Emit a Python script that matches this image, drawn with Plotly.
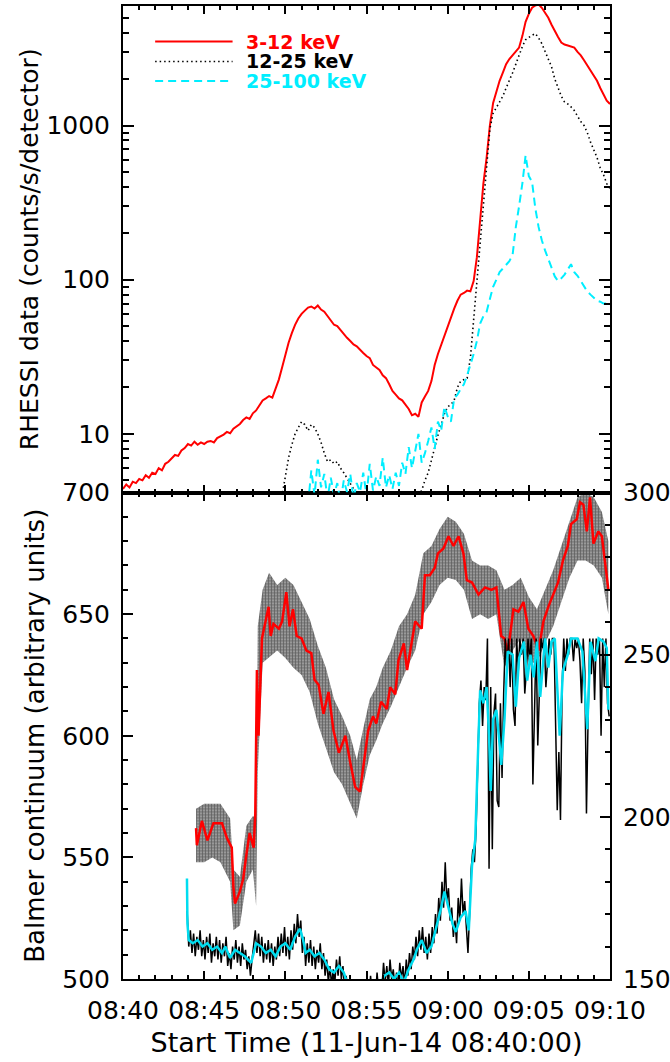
import numpy as np
import pandas as pd
import plotly.graph_objects as go

START = pd.Timestamp("2014-06-11 08:40:00")
FONT = "DejaVu Sans"

# ---------------- Top panel: RHESSI count rates (minutes after 08:40) ----------------
lo_t = np.round(np.arange(0, 30.01, 0.2), 2)
lo_v = [4.4, 4.7, 4.5, 4.9, 4.8, 5.1, 5.0, 5.4, 5.2, 5.6,
        5.5, 6.0, 5.8, 6.4, 6.6, 6.9, 7.3, 7.2, 7.8, 8.1,
        8.6, 8.4, 8.9, 8.5, 8.8, 8.6, 8.9, 9.0, 8.8, 9.4,
        9.6, 9.9, 10.3, 10.1, 10.8, 11.2, 11.6, 12.3, 12.8, 12.5,
        13.6, 14.2, 15.4, 16.5, 17.0, 17.6, 17.2, 19.5, 22.5, 27.0,
        33, 39, 45, 51, 56, 60, 63, 66, 67, 65,
        68, 64, 62, 58, 55, 51, 50, 47, 44, 42,
        40, 38, 37, 35, 33.5, 32, 31, 28, 27, 26,
        24, 23, 21, 19, 18, 17, 16.5, 15.5, 14.5, 13.2,
        13.5, 12.9, 16, 17.5, 19, 22, 28, 33, 38, 44,
        50, 57, 65, 73, 80, 82, 85, 84, 98, 140,
        240, 420, 620, 1000, 1400, 1650, 1950, 2200, 2500, 2700,
        2850, 3050, 3200, 3800, 4700, 5300, 5800, 6000, 6100, 5800,
        5400, 5000, 4500, 4150, 3750, 3450, 3350, 3300, 3250, 3200,
        3000, 2850, 2650, 2450, 2300, 2100, 1950, 1750, 1600, 1450,
        1380]

mid_t = np.round(np.arange(9.6, 30.01, 0.2), 2)
mid_v = [3.0, 4.0, 5.5, 7.0, 8.5, 10.0, 11.0, 12.0, 11.5, 10.5,
         11.5, 11.0, 10.0, 8.8, 7.5, 6.6, 6.8, 6.4, 6.6, 6.0,
         5.6, 5.2, 4.8, 4.4, 4.0, 3.8, 3.6, 3.5, 3.4, 3.4,
         3.3, 3.3, 3.2, 3.3, 3.2, 3.3, 3.4, 3.4, 3.5, 3.6,
         3.7, 3.8, 3.9, 4.0, 4.3, 5.0, 5.6, 6.8, 8.3, 9.8,
         11.5, 13.5, 15.0, 15.5, 16.5, 20.0, 22.0, 22.5, 23.0, 31.0,
         55, 95, 170, 330, 600, 950, 1200, 1300, 1400, 1550,
         1750, 1950, 2200, 2500, 2900, 3250, 3600, 3750, 3850, 3950,
         3700, 3400, 3000, 2700, 2400, 2000, 1750, 1550, 1420, 1380,
         1320, 1250, 1150, 1060, 1000, 900, 780, 700, 620, 530,
         480, 420, 390]

hi_t = np.round(np.arange(11.4, 30.01, 0.2), 2)
hi_v = [3.5, 5.8, 4.0, 6.8, 4.5, 5.5, 3.8, 5.2, 4.0, 4.8,
        3.6, 5.0, 4.2, 5.5, 3.8, 4.8, 4.2, 5.6, 4.0, 6.4,
        4.3, 5.3, 4.6, 7.0, 4.5, 5.4, 4.4, 5.6, 4.6, 6.5,
        5.5, 8.2, 6.0, 8.0, 10.0, 6.5, 7.5, 9.0, 11.0, 8.0,
        12.0, 10.5, 15.0, 13.0, 12.0, 17.0, 18.0, 19.5, 21.0, 24.0,
        28, 33, 40, 52, 58, 62, 75, 90, 100, 112,
        118, 126, 132, 145, 220, 300, 420, 640, 470, 430,
        290, 220, 180, 155, 135, 120, 105, 98, 102, 108,
        118, 126, 112, 106, 98, 90, 84, 80, 76, 73,
        72, 70, 70, 69]

band_names = ["3-12 keV", "12-25 keV", "25-100 keV"]

# ---------------- Bottom panel: Balmer continuum ----------------
# smoothed red curve (left axis)
bal_t = [4.5, 4.55, 4.86, 5.2, 5.57, 6.1, 6.4, 6.7, 6.8, 6.9, 7.2, 7.4, 7.6, 7.8, 8.05, 8.15,
         8.25, 8.35, 8.56, 8.76, 8.97, 9.1, 9.27, 9.6, 9.8, 10.06, 10.26, 10.47, 10.7, 11.0,
         11.3, 11.6, 11.8, 12.05, 12.35, 12.66, 12.97, 13.3, 13.7, 14.0, 14.3, 14.6, 14.9,
         15.1, 15.4, 15.6, 15.9, 16.25, 16.46, 16.77, 16.97, 17.3, 17.5, 17.8, 18.0, 18.4,
         18.6, 18.9, 19.2, 19.4, 19.74, 20.05, 20.36, 20.67, 20.97, 21.18, 21.5, 21.9, 22.3,
         22.7, 23.0, 23.3, 23.5, 23.7, 24.05, 24.36, 24.67, 24.97, 25.28, 25.6, 25.9, 26.2,
         26.5, 26.8, 27.1, 27.4, 27.6, 27.95, 28.15, 28.36, 28.57, 28.77, 28.98, 29.28,
         29.5, 29.7, 29.9]
bal_v = [562, 555, 565, 557, 564, 564, 558, 554, 538, 531, 536, 541, 551, 560, 554, 568,
         627, 600, 640, 647, 653, 641, 646, 644, 647, 659, 645, 652, 641, 640,
         635, 634, 623, 621, 609, 618, 602, 593, 600, 589, 579, 577, 592,
         602, 608, 605, 614, 611, 620, 617, 631, 638, 627, 638, 647, 644,
         666, 666, 669, 675, 677, 682, 678, 682, 675, 664, 663, 658, 661,
         660, 661, 641, 640, 634, 652, 651, 655, 644, 641, 635, 647, 653,
         658, 663, 672, 678, 687, 689, 696, 695, 684, 698, 679, 684,
         682, 672, 660]

# envelope of the raw (dotted) Balmer samples
pts_t = [4.5, 5.0, 5.5, 6.0, 6.6, 6.8, 7.2, 7.6, 8.0, 8.2, 8.3, 8.6, 9.0, 9.5, 10.0, 10.5,
         11.0, 11.5, 12.0, 12.5, 13.0, 13.5, 14.0, 14.4, 14.8, 15.2, 15.6, 16.0, 16.5, 17.0,
         17.5, 18.0, 18.5, 19.0, 19.5, 20.0, 20.5, 21.0, 21.5, 22.0, 22.5, 23.0, 23.5, 24.0,
         24.5, 25.0, 25.5, 26.0, 26.5, 27.0, 27.5, 28.0, 28.5, 29.0, 29.5, 29.9]
pts_hi = [570, 572, 572, 572, 566, 545, 542, 563, 567, 566, 645, 660, 667, 662, 665, 662,
          655, 648, 637, 628, 615, 608, 600, 590, 603, 615, 620, 628, 635, 645,
          650, 658, 675, 678, 685, 690, 688, 683, 672, 670, 670, 668, 660, 662,
          665, 657, 652, 660, 668, 678, 688, 698, 700, 698, 692, 680]
pts_lo = [548, 548, 550, 548, 540, 520, 522, 540, 545, 530, 585, 630, 632, 635, 632, 628,
          625, 618, 605, 595, 585, 580, 572, 566, 580, 592, 598, 605, 612, 620,
          628, 635, 650, 655, 662, 665, 664, 660, 648, 650, 648, 650, 628, 635,
          640, 630, 630, 638, 645, 655, 665, 672, 672, 670, 665, 650]

# raw light curve (right axis), sampled every 0.1 min from 3.95
raw_t = np.round(3.95 + 0.1 * np.arange(261), 2)
raw_v = [171, 160, 165, 158, 164, 157, 163, 159, 165, 157,
         162, 156, 163, 158, 164, 155, 161, 157, 163, 156,
         162, 155, 161, 157, 163, 154, 158, 153, 160, 156,
         162, 155, 160, 154, 161, 156, 159, 153, 157, 151,
         156, 160, 165, 158, 164, 157, 163, 155, 161, 156,
         162, 155, 161, 154, 160, 156, 163, 157, 164, 158,
         166, 157, 163, 156, 165, 159, 167, 161, 170, 163,
         168, 158, 163, 154, 161, 155, 162, 154, 160, 153,
         159, 155, 161, 153, 158, 151, 156, 149, 154, 148,
         153, 149, 156, 151, 157, 150, 154, 147, 151, 145,
         146, 150, 144, 148, 143, 147, 142, 149, 144, 147,
         142, 148, 143, 151, 145, 149, 144, 152, 146, 150,
         147, 155, 149, 154, 148, 156, 150, 153, 147, 152,
         146, 155, 150, 154, 148, 156, 151, 158, 153, 160,
         156, 163, 157, 165, 159, 166, 158, 163, 156, 164,
         158, 166, 161, 170, 164, 175, 168, 180, 172, 186,
         174, 178, 168, 172, 163, 168, 161, 175, 168, 181,
         170, 174, 165, 158, 170, 184, 190, 186, 196,
         215, 235, 242, 228, 240, 236, 255, 184, 240, 190,
         232, 238, 205, 203, 235, 212, 238, 255, 245, 255,
         240, 255, 233, 228, 255, 245, 255, 250, 255, 238,
         245, 255, 248, 255, 210, 232, 255, 222, 236, 255,
         252, 255, 240, 247, 255, 250, 255, 255, 232, 202,
         220, 199, 240, 255, 245, 255, 250, 255, 255, 248,
         255, 252, 255, 248, 235, 255, 245, 201, 230, 255,
         244, 255, 236, 255, 250, 255, 225, 255, 240, 255,
         235, 231]

# smoothed light curve (right axis)
sm_t = [3.94, 3.97, 4.05, 4.3, 4.6, 4.9, 5.2, 5.5, 5.8, 6.1, 6.3, 6.6, 6.9, 7.2, 7.5, 7.9,
        8.2, 8.5, 8.8, 9.1, 9.4, 9.7, 10.0, 10.3, 10.6, 10.9, 11.1, 11.25, 11.5, 11.8, 12.1,
        12.4, 12.7, 13.0, 13.3, 13.6, 13.8, 14.2, 14.6, 15.0, 15.4, 15.8, 16.1, 16.4, 16.7,
        17.0, 17.3, 17.6, 17.9, 18.1, 18.4, 18.7, 19.0, 19.2, 19.4, 19.6, 19.8, 20.1, 20.3,
        20.5, 20.8, 21.1, 21.3, 21.5, 21.7, 21.85, 22.0, 22.2, 22.4, 22.55, 22.65, 22.8,
        23.0, 23.15, 23.3, 23.5, 23.7, 24.0, 24.2, 24.4, 24.7, 24.9, 25.1, 25.3, 25.5, 25.7,
        26.0, 26.2, 26.4, 26.6, 26.75, 26.9, 27.1, 27.4, 27.6, 28.0, 28.3, 28.45, 28.6,
        28.8, 29.1, 29.3, 29.6, 29.8, 29.9]
sm_v = [181, 167, 162, 161, 162, 160, 161, 159, 160, 158, 160, 156.5, 159, 158, 157, 155,
        161, 160, 158, 159, 157, 160, 161, 159, 163, 165.5, 162, 158, 159, 157, 158,
        156, 153, 152, 154, 152, 149, 146, 145, 146, 147, 148, 151, 152, 150,
        152, 149, 153, 156, 159, 162, 158, 160, 164, 168, 172, 177, 171, 167,
        164.5, 169, 171, 165, 185, 193, 217, 239, 235, 240, 225, 208, 230,
        233, 225, 216, 230, 251, 250, 234, 249, 254, 242, 250, 243, 254, 237,
        255, 246, 254, 255, 240, 225, 245, 250, 255, 255, 251, 240, 227,
        254, 248, 255, 254, 252, 233]


def tt(minutes):
    return START + pd.to_timedelta(np.asarray(minutes, dtype=float), unit="min")


RED = "#ff0000"
CYAN = "#00eeff"
DOT = "1.5px,3px"
DASH = "8px,5px"

fig = go.Figure()

# top panel
fig.add_trace(go.Scatter(x=tt(lo_t), y=lo_v, mode="lines", line=dict(color=RED, width=2),
                         xaxis="x2", yaxis="y2", showlegend=False, name=band_names[0]))
fig.add_trace(go.Scatter(x=tt(mid_t), y=mid_v, mode="lines",
                         line=dict(color="black", width=1.6, dash=DOT),
                         xaxis="x2", yaxis="y2", showlegend=False, name=band_names[1]))
fig.add_trace(go.Scatter(x=tt(hi_t), y=hi_v, mode="lines",
                         line=dict(color=CYAN, width=2, dash=DASH),
                         xaxis="x2", yaxis="y2", showlegend=False, name=band_names[2]))

# bottom panel: raw dotted samples as a stippled band
band_x = list(tt(pts_t)) + list(tt(pts_t[::-1]))
band_y = pts_hi + pts_lo[::-1]
fig.add_trace(go.Scatter(x=band_x, y=band_y, mode="lines", line=dict(width=0),
                         fill="toself", fillcolor="rgba(0,0,0,0.25)",
                         fillpattern=dict(shape=".", fgcolor="black", bgcolor="rgba(0,0,0,0.22)",
                                          size=3, solidity=0.7),
                         xaxis="x", yaxis="y", showlegend=False, hoverinfo="skip"))
fig.add_trace(go.Scatter(x=tt(bal_t), y=bal_v, mode="lines", line=dict(color=RED, width=2.5),
                         xaxis="x", yaxis="y", showlegend=False))
fig.add_trace(go.Scatter(x=tt(raw_t), y=raw_v, mode="lines", line=dict(color="black", width=1.5),
                         xaxis="x", yaxis="y3", showlegend=False))
fig.add_trace(go.Scatter(x=tt(sm_t), y=sm_v, mode="lines", line=dict(color="#00ddf0", width=2.5),
                         xaxis="x", yaxis="y3", showlegend=False))

TICKFONT = dict(family=FONT, size=25, color="black")
axis_common = dict(showline=True, linecolor="black", linewidth=2, ticks="inside",
                   tickcolor="black", tickwidth=1.5, showgrid=False, zeroline=False,
                   automargin=False, tickfont=TICKFONT)

x_range = [START, START + pd.Timedelta(minutes=30)]
xcommon = dict(axis_common, range=x_range, tick0=START, dtick=300000, ticklen=8,
               tickformat="%H:%M", mirror="ticks",
               minor=dict(ticks="inside", dtick=60000, ticklen=4, tickwidth=1.5, tickcolor="black",
                          showgrid=False))

fig.update_layout(
    width=670, height=1062,
    margin=dict(l=123, r=60, t=6, b=83, autoexpand=False),
    paper_bgcolor="white", plot_bgcolor="white",
    font=dict(family=FONT, color="black"),
    xaxis=dict(xcommon, anchor="y", domain=[0, 1], ticklabelstandoff=8,
               title=dict(text="Start Time (11-Jun-14 08:40:00)", font=dict(family=FONT, size=27),
                          standoff=9)),
    xaxis2=dict(xcommon, anchor="y2", matches="x", showticklabels=False),
    yaxis=dict(axis_common, domain=[0, 0.5], range=[500, 700], dtick=50, ticklen=10,
               mirror=False, ticklabelstandoff=6,
               minor=dict(ticks="inside", dtick=10, ticklen=5, tickwidth=1.5, tickcolor="black"),
               title=dict(text="Balmer continuum (arbitrary units)", font=dict(family=FONT, size=26),
                          standoff=10)),
    yaxis3=dict(axis_common, overlaying="y", side="right", anchor="x", range=[150, 300], dtick=50,
                ticklen=10, ticklabelstandoff=6,
                minor=dict(ticks="inside", dtick=10, ticklen=5, tickwidth=1.5, tickcolor="black")),
    yaxis2=dict(axis_common, domain=[0.5, 1], type="log", range=[0.62, 3.775], dtick=1, tick0=0,
                ticklen=11, mirror="ticks", exponentformat="none", ticklabelstandoff=6,
                minor=dict(ticks="inside", dtick="D1", ticklen=6, tickwidth=1.5, tickcolor="black"),
                title=dict(text="RHESSI data (counts/s/detector)", font=dict(family=FONT, size=25),
                           standoff=1)),
)

# legend (drawn inside the top panel)
legend_rows = [0.927, 0.886, 0.846]
legend_styles = [dict(color=RED, width=2), dict(color="black", width=1.6, dash=DOT),
                 dict(color=CYAN, width=2, dash=DASH)]
legend_colors = [RED, "black", CYAN]
for name, yr, st, col in zip(band_names, legend_rows, legend_styles, legend_colors):
    fig.add_shape(type="line", xref="x2 domain", yref="y2 domain", x0=0.066, x1=0.225, y0=yr, y1=yr,
                  line=st)
    fig.add_annotation(xref="x2 domain", yref="y2 domain", x=0.251, y=yr, text="<b>" + name + "</b>",
                       showarrow=False, xanchor="left", yanchor="middle", borderpad=0,
                       font=dict(family=FONT, size=19, color=col))

fig.write_html("out.html", config={"displayModeBar": False},
               post_script="document.body.style.margin='0';document.body.style.overflow='hidden';")
